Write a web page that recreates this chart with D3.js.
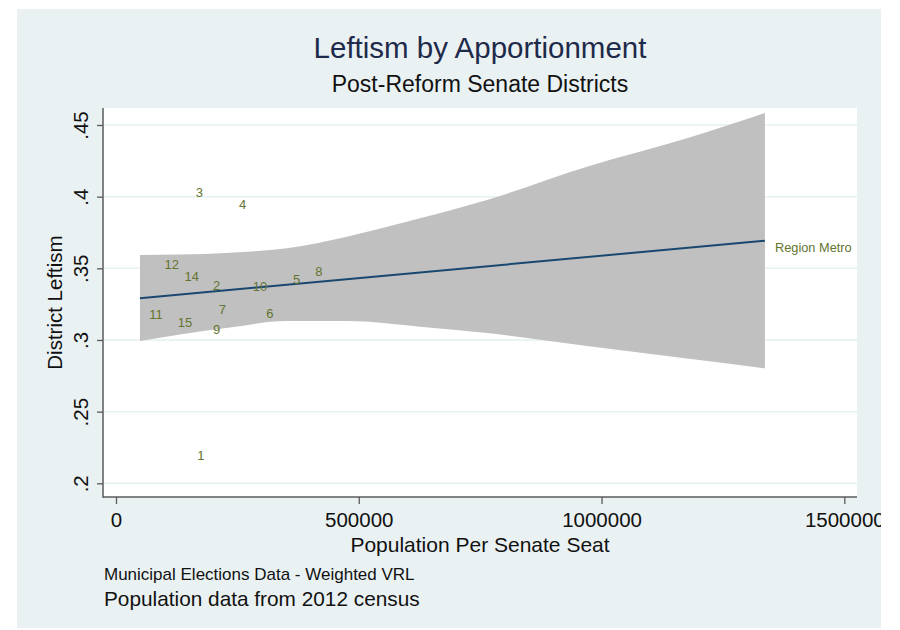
<!DOCTYPE html>
<html>
<head>
<meta charset="utf-8">
<script src="https://cdn.jsdelivr.net/npm/d3@7/dist/d3.min.js"></script>
<style>
  html, body { margin: 0; padding: 0; background: #ffffff; }
  svg { display: block; font-family: "Liberation Sans", Arial, Helvetica, sans-serif; }
</style>
</head>
<body>
<svg id="chart" width="900" height="630"></svg>
<script>
// ---- data ----
const districtLabels = ["1","2","3","4","5","6","7","8","9","10","11","12","14","15"];
const districtPop = [175000, 207400, 171500, 260900, 372100, 317100, 218900, 418000, 207400, 296500, 82400, 114700, 155900, 142100];
const districtLeft = [0.2193, 0.3384, 0.4028, 0.3947, 0.3423, 0.3186, 0.3214, 0.3476, 0.3077, 0.3372, 0.3181, 0.3528, 0.3446, 0.3121];

const metroLabel = ["Region Metro"];
const metroPop = [1336500];
const metroLeft = [0.3649];

const fitPop = [49400, 1336500];
const fitLeft = [0.3291, 0.3693];

const ciPop = [49400, 131800, 234800, 352100, 475700, 626000, 764000, 970000, 1175900, 1336500];
const ciUpper = [0.3593, 0.3596, 0.3609, 0.3640, 0.3721, 0.3849, 0.3977, 0.4209, 0.4407, 0.4584];
const ciLower = [0.2993, 0.3038, 0.3087, 0.3132, 0.3132, 0.3093, 0.3049, 0.2958, 0.2871, 0.2802];

const xTicks = [0, 500000, 1000000, 1500000];
const xTickLabels = ["0", "500000", "1000000", "1500000"];
const yTicks = [0.2, 0.25, 0.3, 0.35, 0.4, 0.45];
const yTickLabels = [".2", ".25", ".3", ".35", ".4", ".45"];

const titleText = "Leftism by Apportionment";
const subtitleText = "Post-Reform Senate Districts";
const xTitle = "Population Per Senate Seat";
const yTitle = "District Leftism";
const note1 = "Municipal Elections Data - Weighted VRL";
const note2 = "Population data from 2012 census";

// ---- layout ----
const svg = d3.select("#chart");
const panel = {x0: 17, y0: 9, x1: 881, y1: 628};
const plot = {x0: 103, y0: 108, x1: 857, y1: 497};

svg.append("defs").append("clipPath").attr("id", "panelClip")
  .append("rect").attr("x", panel.x0).attr("y", panel.y0)
  .attr("width", panel.x1 - panel.x0).attr("height", panel.y1 - panel.y0);

const root = svg.append("g").attr("clip-path", "url(#panelClip)");

root.append("rect").attr("x", panel.x0).attr("y", panel.y0)
  .attr("width", panel.x1 - panel.x0).attr("height", panel.y1 - panel.y0)
  .attr("fill", "#eaf1f3");

root.append("rect").attr("x", plot.x0).attr("y", plot.y0)
  .attr("width", plot.x1 - plot.x0).attr("height", plot.y1 - plot.y0)
  .attr("fill", "#ffffff");

const x = d3.scaleLinear().domain([0, 1500000]).range([116, 844.3]);
const y = d3.scaleLinear().domain([0.2, 0.45]).range([483.3, 125.0]);

// gridlines
root.append("g").selectAll("line").data(yTicks).join("line")
  .attr("x1", plot.x0 + 1).attr("x2", plot.x1)
  .attr("y1", d => y(d)).attr("y2", d => y(d))
  .attr("stroke", "#e6eff2").attr("stroke-width", 1.5);

// CI band
const ciData = ciPop.map((p, i) => ({p, u: ciUpper[i], l: ciLower[i]}));
root.append("path").datum(ciData)
  .attr("d", d3.area().x(d => x(d.p)).y0(d => y(d.l)).y1(d => y(d.u)).curve(d3.curveMonotoneX))
  .attr("fill", "#c0c0c0");

// fit line
root.append("path").datum(fitPop.map((p, i) => ({p, v: fitLeft[i]})))
  .attr("d", d3.line().x(d => x(d.p)).y(d => y(d.v)))
  .attr("fill", "none").attr("stroke", "#1a476f").attr("stroke-width", 2);

// marker labels
const labelColor = "#637530";
root.append("g").selectAll("text").data(districtLabels).join("text")
  .attr("x", (d, i) => x(districtPop[i]))
  .attr("y", (d, i) => y(districtLeft[i]))
  .attr("dy", "0.36em")
  .attr("text-anchor", "middle")
  .attr("font-size", 13)
  .attr("fill", labelColor)
  .text(d => d);

root.append("g").selectAll("text").data(metroLabel).join("text")
  .attr("x", (d, i) => x(metroPop[i]) + 10)
  .attr("y", (d, i) => y(metroLeft[i]))
  .attr("dy", "0.36em")
  .attr("text-anchor", "start")
  .attr("font-size", 12.8)
  .attr("fill", labelColor)
  .text(d => d);

// axes
const axisColor = "#5a5a5a";
const gx = root.append("g").attr("transform", `translate(0,${plot.y1})`)
  .call(d3.axisBottom(x).tickValues(xTicks).tickSize(7).tickFormat((d, i) => xTickLabels[i]));
gx.select(".domain").remove();
gx.selectAll(".tick line").attr("stroke", axisColor).attr("stroke-width", 1.3);
gx.selectAll(".tick text").attr("y", 30).attr("dy", null)
  .attr("font-size", 20.5).attr("fill", "#111").attr("font-family", null);

const gy = root.append("g").attr("transform", `translate(${plot.x0},0)`)
  .call(d3.axisLeft(y).tickValues(yTicks).tickSize(6).tickFormat((d, i) => yTickLabels[i]));
gy.select(".domain").remove();
gy.selectAll(".tick line").attr("stroke", axisColor).attr("stroke-width", 1.3);
gy.selectAll(".tick text").attr("x", null).attr("dy", null)
  .attr("transform", "translate(-15,0) rotate(-90)")
  .attr("text-anchor", "middle")
  .attr("font-size", 20.5).attr("fill", "#111").attr("font-family", null);

root.append("line").attr("x1", plot.x0).attr("x2", plot.x0)
  .attr("y1", plot.y0).attr("y2", plot.y1 + 0.7)
  .attr("stroke", axisColor).attr("stroke-width", 1.5);
root.append("line").attr("x1", plot.x0).attr("x2", plot.x1)
  .attr("y1", plot.y1).attr("y2", plot.y1)
  .attr("stroke", axisColor).attr("stroke-width", 1.5);

// titles
const cx = (plot.x0 + plot.x1) / 2;
root.append("text").attr("x", cx).attr("y", 58).attr("text-anchor", "middle")
  .attr("font-size", 29.5).attr("fill", "#1e2a4a").text(titleText);
root.append("text").attr("x", cx).attr("y", 92).attr("text-anchor", "middle")
  .attr("font-size", 23).attr("fill", "#111").text(subtitleText);
root.append("text").attr("x", cx).attr("y", 552).attr("text-anchor", "middle")
  .attr("font-size", 21).attr("fill", "#111").text(xTitle);
root.append("text").attr("transform", `translate(62,${(plot.y0 + plot.y1) / 2}) rotate(-90)`)
  .attr("text-anchor", "middle")
  .attr("font-size", 20.5).attr("fill", "#111").text(yTitle);
root.append("text").attr("x", 104).attr("y", 580)
  .attr("font-size", 17).attr("fill", "#111").text(note1);
root.append("text").attr("x", 104).attr("y", 606)
  .attr("font-size", 20.8).attr("fill", "#111").text(note2);
</script>
</body>
</html>
